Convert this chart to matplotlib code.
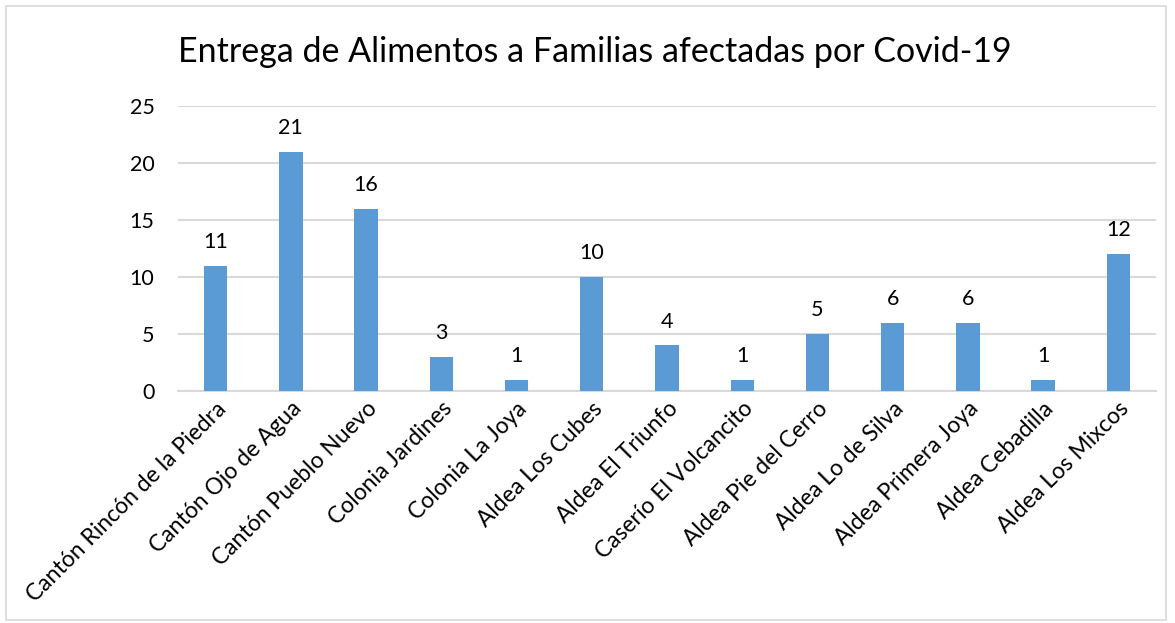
import matplotlib
matplotlib.use("Agg")
import matplotlib.pyplot as plt
from matplotlib.patches import Rectangle
import numpy as np

plt.rcParams["font.family"] = ["Lato", "DejaVu Sans"]

# Data
lugares = ["Cantón Rincón de la Piedra", "Cantón Ojo de Agua", "Cantón Pueblo Nuevo",
           "Colonia Jardines", "Colonia La Joya", "Aldea Los Cubes", "Aldea El Triunfo",
           "Caserío El Volcancito", "Aldea Pie del Cerro", "Aldea Lo de Silva",
           "Aldea Primera Joya", "Aldea Cebadilla", "Aldea Los Mixcos"]
familias = [11, 21, 16, 3, 1, 10, 4, 1, 5, 6, 6, 1, 12]
y_ticks = [0, 5, 10, 15, 20, 25]

bar_color = "#5B9BD5"
grid_color = "#D9D9D9"

fig = plt.figure(figsize=(11.75, 6.23), dpi=100)
ax = fig.add_axes([0.1515, 0.3724, 0.8323, 0.4575])

x = np.arange(len(lugares))
ax.bar(x, familias, width=0.31, color=bar_color, zorder=3)

for xi, v in zip(x, familias):
    ax.annotate(str(v), (xi, v), xytext=(0, 10), textcoords="offset points",
                ha="center", va="bottom", fontsize=15.5, color="#000000")

ax.set_xlim(-0.5, len(lugares) - 0.5)
ax.set_ylim(0, 25)
ax.set_yticks(y_ticks)
ax.set_yticklabels([str(t) for t in y_ticks], fontsize=15.5)
ax.yaxis.grid(True, color=grid_color, linewidth=1.5, zorder=0)
ax.set_xticks(x)
ax.set_xticklabels(lugares, rotation=45, ha="right", va="top",
                   rotation_mode="anchor", fontsize=16.5)
ax.tick_params(axis="y", length=0, pad=17)
ax.tick_params(axis="x", length=0, pad=5)

for s in ["top", "right", "left"]:
    ax.spines[s].set_visible(False)
ax.spines["bottom"].set_color(grid_color)
ax.spines["bottom"].set_linewidth(1.5)

fig.text(0.1515, 0.917, "Entrega de Alimentos a Familias afectadas por Covid-19",
         fontsize=24.5, ha="left", va="center")

fig.patches.append(Rectangle((6 / 1175, 3 / 623), 1160 / 1175, 614 / 623,
                             transform=fig.transFigure, fill=False,
                             edgecolor=grid_color, linewidth=1.2))

fig.savefig("out.png", dpi=100)
